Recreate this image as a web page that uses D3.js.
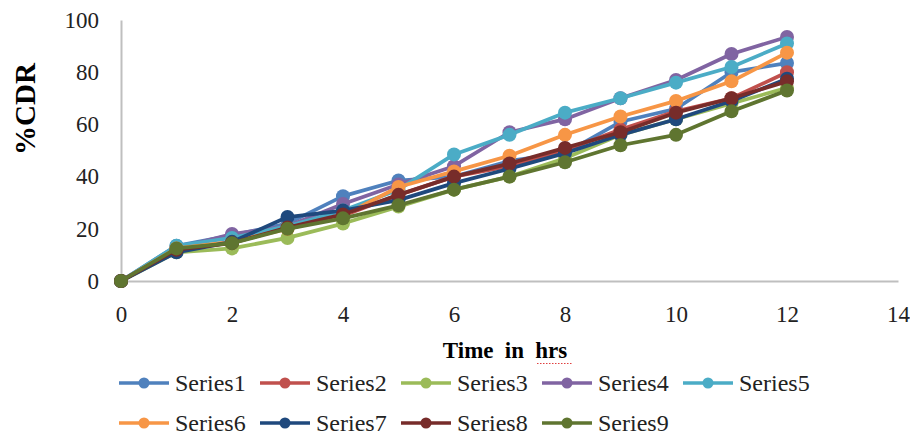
<!DOCTYPE html>
<html><head><meta charset="utf-8">
<script src="https://cdn.jsdelivr.net/npm/d3@7"></script>
<style>body{margin:0;background:#fff}svg{display:block}</style>
</head><body><svg id="c" width="910" height="437"></svg>
<script>
const hours = [0,1,2,3,4,5,6,7,8,9,10,11,12];
const seriesNames = ["Series1","Series2","Series3","Series4","Series5","Series6","Series7","Series8","Series9"];
const series1 = [0,13.5,17.5,22,32.5,38.5,40,46,49,61,66,80,83.5];
const series2 = [0,12,15,21,25,33,40,44,50,58,65,70,80];
const series3 = [0,11,12.5,16.5,22,28.5,35,40,47,56,62,68,74];
const series4 = [0,12.5,18,21,29.5,37,44,57,62,70,77,87,93.5];
const series5 = [0,13.5,16.5,21,27,35,48.5,56,64.5,70,76,82,91];
const series6 = [0,12.5,15,20,25,36,42,48,56,63,69,76.5,87.5];
const series7 = [0,11,15,24.5,27,31,37.5,43,49,56,62,69,77.5];
const series8 = [0,12,14.5,20.5,25.5,33,40,45,51,57,64.5,70,76.5];
const series9 = [0,12.5,14.5,20,24,29,35,40,45.5,52,56,65,73];
const xTicks = [0,2,4,6,8,10,12,14];
const yTicks = [0,20,40,60,80,100];
const colors = ["#4F81BD","#C0504D","#9BBB59","#8064A2","#4BACC6","#F79646","#1F497D","#772C2A","#5F7530"];
const allSeries = [series1,series2,series3,series4,series5,series6,series7,series8,series9];

const svg = d3.select("#c");
const font = "'Liberation Serif','Times New Roman',serif";
const x = d3.scaleLinear().domain([0,14]).range([121,898]);
const y = d3.scaleLinear().domain([0,100]).range([281,20]);

// axes
const xAxis = svg.append("g").attr("transform","translate(0,281)")
  .call(d3.axisBottom(x).tickValues(xTicks).tickSize(0).tickPadding(25));
xAxis.select(".domain").attr("stroke","#BFBFBF").attr("stroke-width",2);
xAxis.selectAll("text").attr("font-family",font).attr("font-size",23).attr("fill","#222");
const yAxis = svg.append("g").attr("transform","translate(121,0)")
  .call(d3.axisLeft(y).tickValues(yTicks).tickSize(0).tickPadding(22));
yAxis.select(".domain").attr("stroke","#BFBFBF").attr("stroke-width",2);
yAxis.selectAll("text").attr("font-family",font).attr("font-size",23).attr("fill","#222");

// titles
svg.append("text").attr("transform","translate(35,109) rotate(-90)")
  .attr("text-anchor","middle").attr("font-family",font).attr("font-weight","bold")
  .attr("font-size",29).text("%CDR");
svg.append("text").attr("x",505).attr("y",358).attr("text-anchor","middle")
  .attr("font-family",font).attr("font-weight","bold").attr("font-size",23)
  .attr("word-spacing","5.5px").text("Time in hrs");
svg.append("line").attr("x1",537).attr("x2",572).attr("y1",363.5).attr("y2",363.5)
  .attr("stroke","#e04040").attr("stroke-width",1.2).attr("stroke-dasharray","1.5,1.5");

// lines
const line = d3.line().x((d,i)=>x(hours[i])).y(d=>y(d));
allSeries.forEach((s,k)=>{
  const g = svg.append("g");
  g.append("path").datum(s).attr("d",line).attr("fill","none")
    .attr("stroke",colors[k]).attr("stroke-width",3.75).attr("stroke-linejoin","round");
  g.selectAll("circle").data(s).join("circle")
    .attr("cx",(d,i)=>x(hours[i])).attr("cy",d=>y(d)).attr("r",7).attr("fill",colors[k]);
});

// legend
seriesNames.forEach((n,k)=>{
  const row = k<5?0:1, col = k<5?k:k-5;
  const lx = 119 + col*141, ly = row===0?383:423;
  const g = svg.append("g");
  g.append("line").attr("x1",lx).attr("x2",lx+50).attr("y1",ly).attr("y2",ly)
    .attr("stroke",colors[k]).attr("stroke-width",3.5);
  g.append("circle").attr("cx",lx+25).attr("cy",ly).attr("r",5.5).attr("fill",colors[k]);
  g.append("text").attr("x",lx+56).attr("y",ly+7.5).attr("font-family",font)
    .attr("font-size",24).attr("fill","#222").text(n);
});
</script></body></html>
